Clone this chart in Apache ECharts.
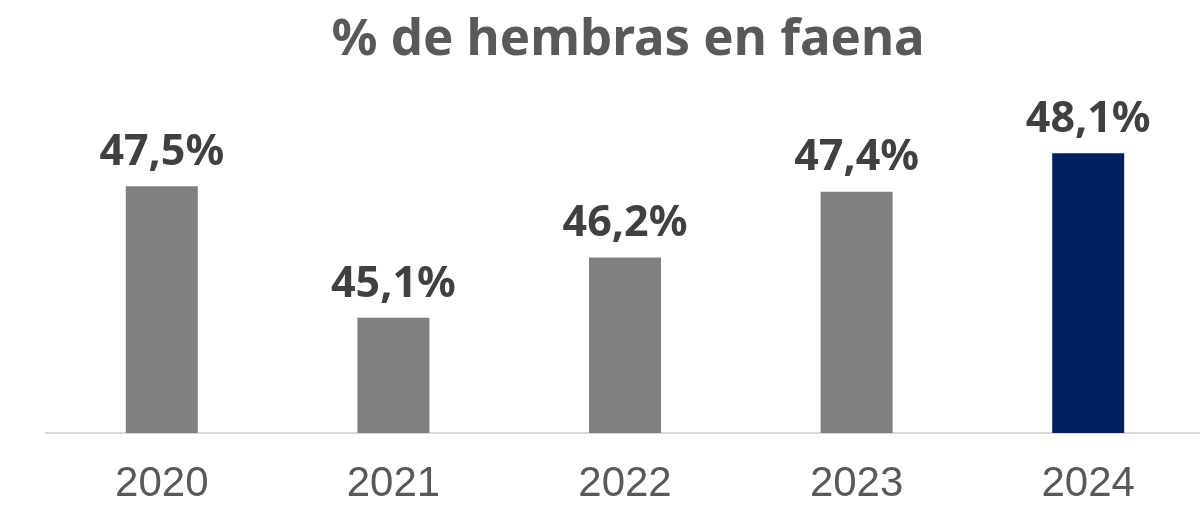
<!DOCTYPE html>
<html>
<head>
<meta charset="utf-8">
<script src="https://cdn.jsdelivr.net/npm/echarts@6/dist/echarts.min.js"></script>
<style>
  html, body { margin: 0; padding: 0; background: #fff; overflow: hidden; }
  /* a bit wider than the window: the plot area runs past the right edge */
  #chart { width: 1204px; height: 514px; }
</style>
</head>
<body>
<div id="chart"></div>
<script>
  const years = ["2020", "2021", "2022", "2023", "2024"]
  const shares = [47.5, 45.1, 46.2, 47.4, 48.1]
  const barColors = ["#808080", "#808080", "#808080", "#808080", "#002060"]

  const chart = echarts.init(document.getElementById("chart"))
  const option = {
    animation: false,
    title: {
      text: "% de hembras en faena",
      left: 623,
      textAlign: "center",
      top: 10,
      textStyle: { fontFamily: "Noto Sans", fontWeight: "bold", fontSize: 51, color: "#595959" },
    },
    grid: { left: 46, right: 0, top: 104, bottom: 81, containLabel: false },
    xAxis: {
      type: "category",
      data: years,
      axisLine: { lineStyle: { color: "#d9d9d9", width: 2 } },
      axisTick: { show: false },
      axisLabel: { fontFamily: "Liberation Sans", fontSize: 42, color: "#595959", margin: 30 },
    },
    yAxis: {
      type: "value",
      min: 43,
      max: 49,
      show: false,
      splitLine: { show: false },
    },
    series: [
      {
        type: "bar",
        barWidth: 72,
        data: shares.map((v, i) => ({ value: v, itemStyle: { color: barColors[i] } })),
        label: {
          show: true,
          position: "top",
          distance: 12,
          fontFamily: "Noto Sans",
          fontWeight: "bold",
          fontSize: 43,
          color: "#404040",
          formatter: (p) => p.value.toFixed(1).replace(".", ",") + "%",
        },
      },
    ],
  }
  chart.setOption(option)
</script>
</body>
</html>
